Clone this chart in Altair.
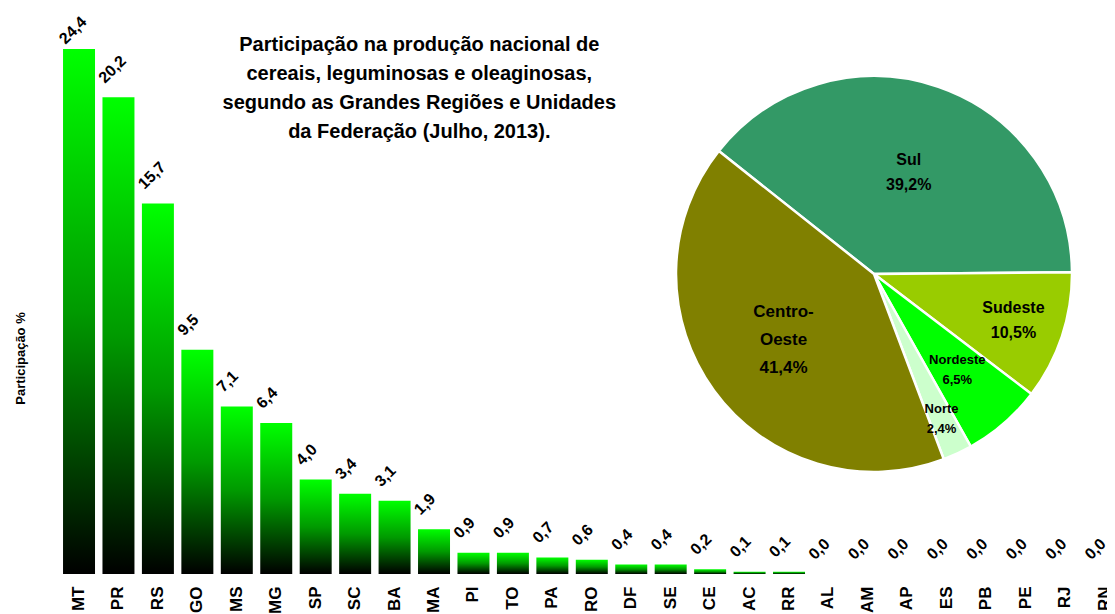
import math
import altair as alt
import pandas as pd

# ---------------- data ----------------
ufs = ["MT", "PR", "RS", "GO", "MS", "MG", "SP", "SC", "BA", "MA", "PI", "TO", "PA", "RO",
       "DF", "SE", "CE", "AC", "RR", "AL", "AM", "AP", "ES", "PB", "PE", "RJ", "RN"]
shares = [24.4, 20.2, 15.7, 9.5, 7.1, 6.4, 4.0, 3.4, 3.1, 1.9, 0.9, 0.9, 0.7, 0.6,
          0.4, 0.4, 0.2, 0.1, 0.1, 0.0, 0.0, 0.0, 0.0, 0.0, 0.0, 0.0, 0.0]

regions = ["Sul", "Sudeste", "Nordeste", "Norte", "Centro-Oeste"]
region_shares = [39.2, 10.5, 6.5, 2.4, 41.4]
region_labels = ["Sul\n39,2%", "Sudeste\n10,5%", "Nordeste\n6,5%", "Norte\n2,4%", "Centro-\nOeste\n41,4%"]
region_colors = ["#339966", "#99CC00", "#00FF00", "#CCFFCC", "#808000"]

title_lines = [
    "Participação na produção nacional de",
    "cereais, leguminosas e oleaginosas,",
    "segundo as Grandes Regiões e Unidades",
    "da Federação  (Julho, 2013).",
]
y_title = "Participação %"

# ---------------- styles ----------------
FONT = "Liberation Sans"
Y_MAX = 22.25          # visible top of the value axis (taller bars are clipped)
LABEL_CAP = 21.85      # value labels of clipped bars sit just under the top
label_radius = [107, 147, 127, 160, 112]
# label style groups: (font size, line height)
label_group = ["big", "big", "small", "small", "co"]
group_style = {"big": (16, 25), "small": (13, 20), "co": (17, 28)}
pie_start = math.radians(308.4)
total = sum(region_shares)

bars_df = pd.DataFrame({
    "uf": ufs,
    "share": shares,
    "lbl": [f"{v:.1f}".replace(".", ",") for v in shares],
})

cum = 0.0
mids = []
for s in region_shares:
    mids.append(cum + s / 2)
    cum += s

pie_df = pd.DataFrame({
    "region": regions,
    "share": region_shares,
    "idx": list(range(len(regions))),
    "mid": mids,
    "lr": label_radius,
    "label": region_labels,
    "grp": label_group,
})

x_enc = alt.X(
    "uf:N", sort=ufs,
    scale=alt.Scale(range=[0, 1065], paddingInner=0.189, paddingOuter=0.0945),
    axis=alt.Axis(title=None, labelAngle=270, labelPadding=12, ticks=False, domain=False,
                  labelFontSize=17, labelFontWeight="bold", labelFont=FONT,
                  labelColor="black", labelOverlap=False),
)
y_scale = alt.Scale(domain=[0, Y_MAX], clamp=True)
y_enc = alt.Y(
    "share:Q",
    scale=y_scale,
    axis=alt.Axis(title=y_title, labels=False, ticks=False, domain=False, grid=False,
                  titleX=-39, titleY=309, titleAngle=270, titleAlign="center",
                  titleBaseline="middle", titleFontSize=13, titleFontWeight="bold",
                  titleFont=FONT, titleColor="black"),
)

grad = alt.Gradient(
    gradient="linear",
    stops=[alt.GradientStop(color="#000000", offset=0),
           alt.GradientStop(color="#009A00", offset=0.5),
           alt.GradientStop(color="#00FF00", offset=1)],
    x1=0, x2=0, y1=1, y2=0,
)

bars = alt.Chart(bars_df).mark_bar(color=grad).encode(x=x_enc, y=y_enc)

bar_labels = alt.Chart(bars_df).transform_calculate(
    lpos=f"min(datum.share, {LABEL_CAP})"
).mark_text(
    angle=315, align="left", baseline="alphabetic", dx=0, dy=-19,
    fontSize=16, fontWeight="bold", font=FONT, color="black",
).encode(x=x_enc, y=alt.Y("lpos:Q", scale=y_scale), text="lbl:N")

cx, cy, R = 814.7, 225, 198
theta_scale = alt.Scale(domain=[0, total], range=[pie_start, pie_start + 2 * math.pi])

pie = alt.Chart(pie_df).mark_arc(radius=R, stroke="white", strokeWidth=2.5).encode(
    theta=alt.Theta("share:Q", stack=True, scale=theta_scale),
    color=alt.Color("region:N", scale=alt.Scale(domain=regions, range=region_colors), legend=None),
    order=alt.Order("idx:Q"),
    x=alt.value(cx), y=alt.value(cy),
)

pie_texts = []
for grp, (fs, lh) in group_style.items():
    nlines = max(l.count("\n") + 1 for l, g in zip(region_labels, label_group) if g == grp)
    pie_texts.append(
        alt.Chart(pie_df).transform_filter(alt.datum.grp == grp).mark_text(
            lineBreak="\n", fontSize=fs, fontWeight="bold", font=FONT, color="black",
            lineHeight=lh, align="center", baseline="middle", dy=-(nlines - 1) * lh / 2,
        ).encode(
            theta=alt.Theta("mid:Q", stack=None, scale=theta_scale),
            radius=alt.Radius("lr:Q", scale=None),
            text="label:N",
            x=alt.value(cx), y=alt.value(cy),
        )
    )

title = alt.Chart(pd.DataFrame({"t": ["\n".join(title_lines)]})).mark_text(
    lineBreak="\n", fontSize=20, fontWeight="bold", font=FONT, color="black",
    lineHeight=29, align="center", baseline="middle",
).encode(text="t:N", x=alt.value(360), y=alt.value(-4))

chart = alt.layer(bars, bar_labels, pie, *pie_texts, title).properties(
    width=1047.7, height=525,
    autosize=alt.AutoSizeParams(type="none"),
    padding={"left": 51.3, "top": 41, "right": 0, "bottom": 40},
    background="white",
).configure_view(stroke=None)

chart.save("out.html", embed_options={"renderer": "svg", "actions": False})
